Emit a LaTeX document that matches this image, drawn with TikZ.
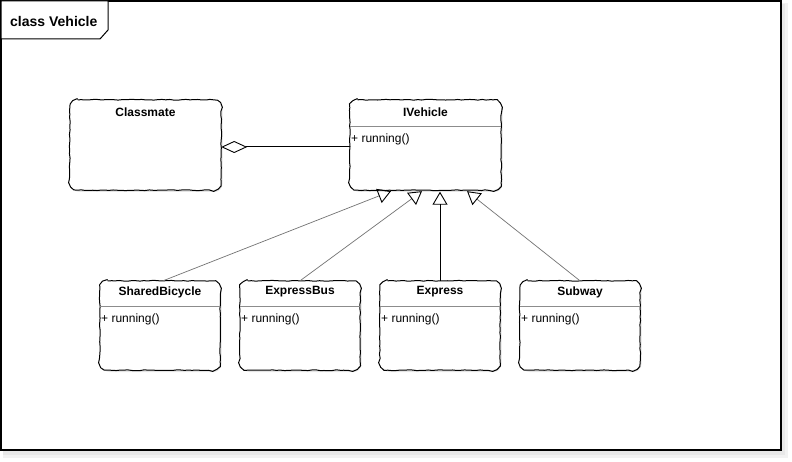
\documentclass[tikz,border=0pt]{standalone}
\usepackage{fontspec}
\setmainfont{Liberation Sans}
\usetikzlibrary{arrows.meta,decorations.pathmorphing,shadows}
\newcommand\skbox[1]{%
 \draw[sketch] ([xshift=8pt]#1.north west) -- ([xshift=-8pt]#1.north east)
   .. controls ([xshift=-3.6pt]#1.north east) and ([yshift=-3.6pt]#1.north east) .. ([yshift=-8pt]#1.north east)
   -- ([yshift=8pt]#1.south east)
   .. controls ([yshift=3.6pt]#1.south east) and ([xshift=-3.6pt]#1.south east) .. ([xshift=-8pt]#1.south east)
   -- ([xshift=8pt]#1.south west)
   .. controls ([xshift=3.6pt]#1.south west) and ([yshift=3.6pt]#1.south west) .. ([yshift=8pt]#1.south west)
   -- ([yshift=-8pt]#1.north west)
   .. controls ([yshift=-3.6pt]#1.north west) and ([xshift=3.6pt]#1.north west) .. ([xshift=8pt]#1.north west);}
\begin{document}
\begin{tikzpicture}[x=1pt,y=-1pt,
  cls/.style={fill=white, rounded corners=8pt, inner sep=0pt,
    drop shadow={opacity=0.2, shadow xshift=1.5pt, shadow yshift=-2pt}},
  sketch/.style={draw=black, line width=1pt, line join=round, line cap=round,
    decorate, decoration={random steps, segment length=4pt, amplitude=0.4pt}},
  clsname/.style={font=\bfseries\fontsize{12}{14}\selectfont, inner sep=0pt},
  clsop/.style={font=\fontsize{12}{14}\selectfont, inner sep=0pt, anchor=west},
  sepline/.style={draw=black!45, line width=0.6pt},
  gen/.style={draw=black!55, line width=0.7pt,
    -{Triangle[open, length=13pt, width=15pt, color=black, line width=0.9pt]}},
  genstrong/.style={draw=black, line width=0.9pt,
    -{Triangle[open, length=13pt, width=15pt, color=black, line width=0.9pt]}},
  agg/.style={draw=black, line width=1pt,
    -{Diamond[open, length=26pt, width=12pt, line width=0.9pt]}}
]
\pgfmathsetseed{7}
\useasboundingbox (0,0) rectangle (792,462);
% frame with shadow
\fill[black!5] (3,3) rectangle (788,458);
\fill[black!9] (3,4) rectangle (785,455);
\draw[line width=1.2pt, fill=white] (1,1) rectangle (781,450);
% title tab
\draw[line width=1pt, fill=white] (1,1) -- (108,1) -- (108,30) -- (100,39) -- (1,39) -- cycle;
\node[font=\bfseries\fontsize{14}{16}\selectfont, inner sep=0pt, anchor=west] (title) at (10,21) {class Vehicle};

% classes
\node[cls, minimum width=151pt, minimum height=90pt] (classmate) at (145.5,145) {};
\skbox{classmate}
\node[clsname] (classmateName) at (145.5,112) {Classmate};

\node[cls, minimum width=151pt, minimum height=90pt] (ivehicle) at (425.5,145) {};
\skbox{ivehicle}
\node[clsname] (ivehicleName) at (425.5,112) {IVehicle};
\draw[sepline] (ivehicle.west |- 0,126) -- (ivehicle.east |- 0,126);
\node[clsop] (ivehicleOp) at (351,139) {+ running()};

\foreach \nm/\lbl/\cx in {sb/SharedBicycle/160, eb/ExpressBus/300, ex/Express/440, sw/Subway/580}{
  \node[cls, minimum width=120pt, minimum height=89pt] (\nm) at (\cx,325.5) {};
  \skbox{\nm}
  \node[clsname] (\nm Name) at (\cx,292) {\lbl};
  \draw[sepline] (\nm.west |- 0,306) -- (\nm.east |- 0,306);
  \node[clsop] (\nm Op) at (\cx-59,319) {+ running()};
}

% connectors
\draw[agg] ([yshift=-2pt]ivehicle.west) -- ([yshift=-2pt]classmate.east);
\draw[gen] ([xshift=3pt]sb.north) -- ([xshift=-34.5pt,yshift=-1pt]ivehicle.south);
\draw[gen] (eb.north) -- ([xshift=-3.5pt,yshift=-1pt]ivehicle.south);
\draw[genstrong] (ex.north) -- ([xshift=14.5pt,yshift=-1.5pt]ivehicle.south);
\draw[gen] (sw.north) -- ([xshift=41.5pt,yshift=-1pt]ivehicle.south);
\end{tikzpicture}
\end{document}
